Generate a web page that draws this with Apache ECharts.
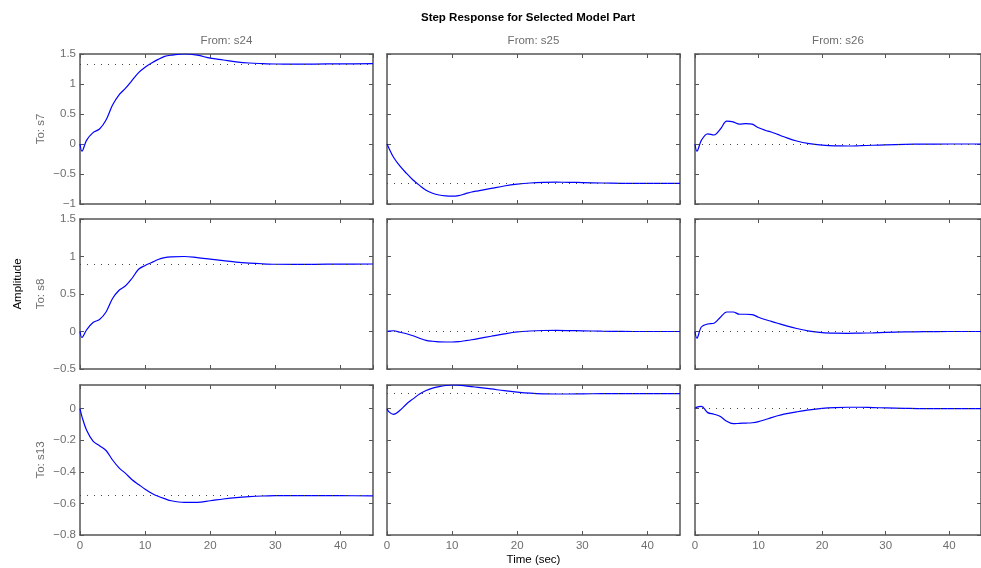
<!DOCTYPE html>
<html>
<head>
<meta charset="utf-8">
<script src="https://cdn.jsdelivr.net/npm/echarts@6/dist/echarts.min.js"></script>
<style>
  html, body { margin: 0; padding: 0; background: #fff; }
  #chart { width: 981px; height: 568px; }
</style>
</head>
<body>
<div id="chart"></div>
<script>
// time samples shared by all responses (sec)
const times = [0, 0.3, 1, 2, 3, 4, 5, 6, 7, 8, 9, 10, 11, 12, 13, 14, 16, 18, 20, 22, 24, 26, 28, 30, 33, 36, 40, 45]

const inputs = ['s24', 's25', 's26']
const outputs = ['s7', 's8', 's13']

// To: s7
const s24_s7 = [0, -0.12, 0.06, 0.19, 0.25, 0.4, 0.65, 0.82, 0.93, 1.06, 1.19, 1.28, 1.35, 1.41, 1.46, 1.48, 1.5, 1.48, 1.43, 1.4, 1.37, 1.35, 1.34, 1.333, 1.33, 1.332, 1.336, 1.338]
const s25_s7 = [0, -0.07, -0.22, -0.37, -0.49, -0.6, -0.69, -0.77, -0.82, -0.85, -0.865, -0.87, -0.86, -0.83, -0.8, -0.78, -0.74, -0.7, -0.67, -0.65, -0.64, -0.637, -0.638, -0.643, -0.65, -0.655, -0.656, -0.655]
const s26_s7 = [0, -0.12, 0.06, 0.17, 0.15, 0.25, 0.38, 0.37, 0.33, 0.34, 0.33, 0.27, 0.23, 0.2, 0.16, 0.12, 0.05, 0.005, -0.02, -0.032, -0.033, -0.028, -0.021, -0.014, -0.006, -0.002, 0, 0]
// To: s8
const s24_s8 = [0, -0.08, 0.02, 0.12, 0.16, 0.26, 0.44, 0.55, 0.61, 0.71, 0.83, 0.88, 0.92, 0.96, 0.985, 0.995, 1.0, 0.985, 0.965, 0.945, 0.925, 0.912, 0.903, 0.897, 0.895, 0.896, 0.899, 0.9]
const s25_s8 = [0, 0.005, 0.01, -0.01, -0.03, -0.057, -0.09, -0.118, -0.13, -0.138, -0.14, -0.14, -0.135, -0.123, -0.11, -0.095, -0.063, -0.032, -0.006, 0.007, 0.013, 0.014, 0.012, 0.009, 0.004, 0.001, 0, 0]
const s26_s8 = [0, -0.09, 0.06, 0.1, 0.11, 0.19, 0.26, 0.26, 0.23, 0.23, 0.225, 0.19, 0.16, 0.135, 0.11, 0.085, 0.04, 0.005, -0.014, -0.022, -0.024, -0.021, -0.018, -0.012, -0.006, -0.002, 0, 0]
// To: s13
const s24_s13 = [0, -0.05, -0.135, -0.205, -0.235, -0.265, -0.325, -0.375, -0.41, -0.45, -0.48, -0.51, -0.535, -0.555, -0.57, -0.583, -0.593, -0.593, -0.583, -0.572, -0.563, -0.557, -0.553, -0.551, -0.55, -0.55, -0.551, -0.552]
const s25_s13 = [0, -0.02, -0.036, -0.01, 0.03, 0.062, 0.093, 0.115, 0.13, 0.14, 0.147, 0.15, 0.149, 0.145, 0.14, 0.135, 0.125, 0.114, 0.105, 0.098, 0.094, 0.093, 0.093, 0.094, 0.095, 0.095, 0.095, 0.095]
const s26_s13 = [0, 0.01, 0.015, -0.025, -0.035, -0.05, -0.08, -0.095, -0.093, -0.091, -0.089, -0.082, -0.07, -0.057, -0.045, -0.035, -0.02, -0.007, 0.002, 0.007, 0.009, 0.009, 0.007, 0.005, 0.002, 0, 0, 0]

const responses = [
  [s24_s7, s25_s7, s26_s7],
  [s24_s8, s25_s8, s26_s8],
  [s24_s13, s25_s13, s26_s13]
]

// steady-state values (dotted lines)
const finalValues = [
  [1.334, -0.655, 0],
  [0.9, 0, 0],
  [-0.552, 0.095, 0]
]

// y range of each output row
const yMins = [-1, -0.5, -0.8]
const yMaxs = [1.5, 1.5, 0.15]
const yIntervals = [0.5, 0.5, 0.2]
const xMax = 45
const xInterval = 10

const chart = echarts.init(document.getElementById('chart'))

const FONT = 'Liberation Sans, Arial, sans-serif'
const FS = 11.5
const gray = '#6e6e6e'
const boxColor = '#555'

const colLeft = [80, 387, 695]
const rowTop = [54, 219, 385]
const cellW = 293
const cellH = 150

const minus = v => String(+v.toFixed(2)).replace('-', '\u2212')

const grid = []
const xAxis = []
const yAxis = []
const series = []

for (let r = 0; r < 3; r++) {
  for (let c = 0; c < 3; c++) {
    const g = grid.length
    grid.push({ left: colLeft[c], top: rowTop[r], width: cellW, height: cellH, show: false })

    const tick = { show: true, inside: true, length: 4, lineStyle: { color: boxColor } }
    const line = { show: true, onZero: false, lineStyle: { color: boxColor, width: 1.5 } }

    // bottom x
    xAxis.push({
      gridIndex: g, type: 'value', min: 0, max: xMax, interval: xInterval, position: 'bottom',
      axisLine: line, axisTick: tick, splitLine: { show: false },
      axisLabel: {
        show: r === 2, showMaxLabel: false, color: gray, fontSize: FS, fontFamily: FONT, margin: 5
      },
      name: r === 2 && c === 1 ? 'Time (sec)' : '',
      nameLocation: 'middle', nameGap: 19,
      nameTextStyle: { color: '#000', fontSize: FS, fontFamily: FONT }
    })
    // top x (ticks only)
    xAxis.push({
      gridIndex: g, type: 'value', min: 0, max: xMax, interval: xInterval, position: 'top',
      axisLine: line, axisTick: tick, splitLine: { show: false }, axisLabel: { show: false },
      name: r === 0 ? 'From: ' + inputs[c] : '',
      nameLocation: 'middle', nameGap: 7,
      nameTextStyle: { color: gray, fontSize: FS, fontFamily: FONT }
    })
    // left y
    yAxis.push({
      gridIndex: g, type: 'value', min: yMins[r], max: yMaxs[r], interval: yIntervals[r], position: 'left',
      axisLine: line, axisTick: tick, splitLine: { show: false },
      axisLabel: {
        show: c === 0, showMaxLabel: r !== 2, color: gray, fontSize: FS, fontFamily: FONT, margin: 4,
        formatter: minus
      },
      name: c === 0 ? 'To: ' + outputs[r] : '',
      nameLocation: 'middle', nameGap: 33, nameRotate: 90,
      nameTextStyle: { color: gray, fontSize: FS, fontFamily: FONT }
    })
    // right y (ticks only)
    yAxis.push({
      gridIndex: g, type: 'value', min: yMins[r], max: yMaxs[r], interval: yIntervals[r], position: 'right',
      axisLine: line, axisTick: tick, splitLine: { show: false }, axisLabel: { show: false }
    })

    series.push({
      type: 'line',
      xAxisIndex: g * 2,
      yAxisIndex: g * 2,
      data: times.map((t, i) => [t, responses[r][c][i]]),
      showSymbol: false,
      smooth: 0.35,
      lineStyle: { color: '#0000ff', width: 1.2 },
      markLine: {
        silent: true,
        symbol: 'none',
        label: { show: false },
        lineStyle: { color: '#444', type: [1, 6], width: 1 },
        data: [{ yAxis: finalValues[r][c] }]
      },
      z: 3
    })
  }
}

chart.setOption({
  animation: false,
  backgroundColor: '#fff',
  title: {
    text: 'Step Response for Selected Model Part',
    left: 523, top: 7, textAlign: 'center',
    textStyle: { fontSize: FS, fontWeight: 'bold', color: '#000', fontFamily: FONT }
  },
  graphic: [{
    type: 'text', x: 18, y: 284, rotation: Math.PI / 2,
    style: {
      text: 'Amplitude', fill: '#000', fontSize: FS, fontFamily: FONT,
      textAlign: 'center', textVerticalAlign: 'middle'
    }
  }],
  grid,
  xAxis,
  yAxis,
  series
})
</script>
</body>
</html>
